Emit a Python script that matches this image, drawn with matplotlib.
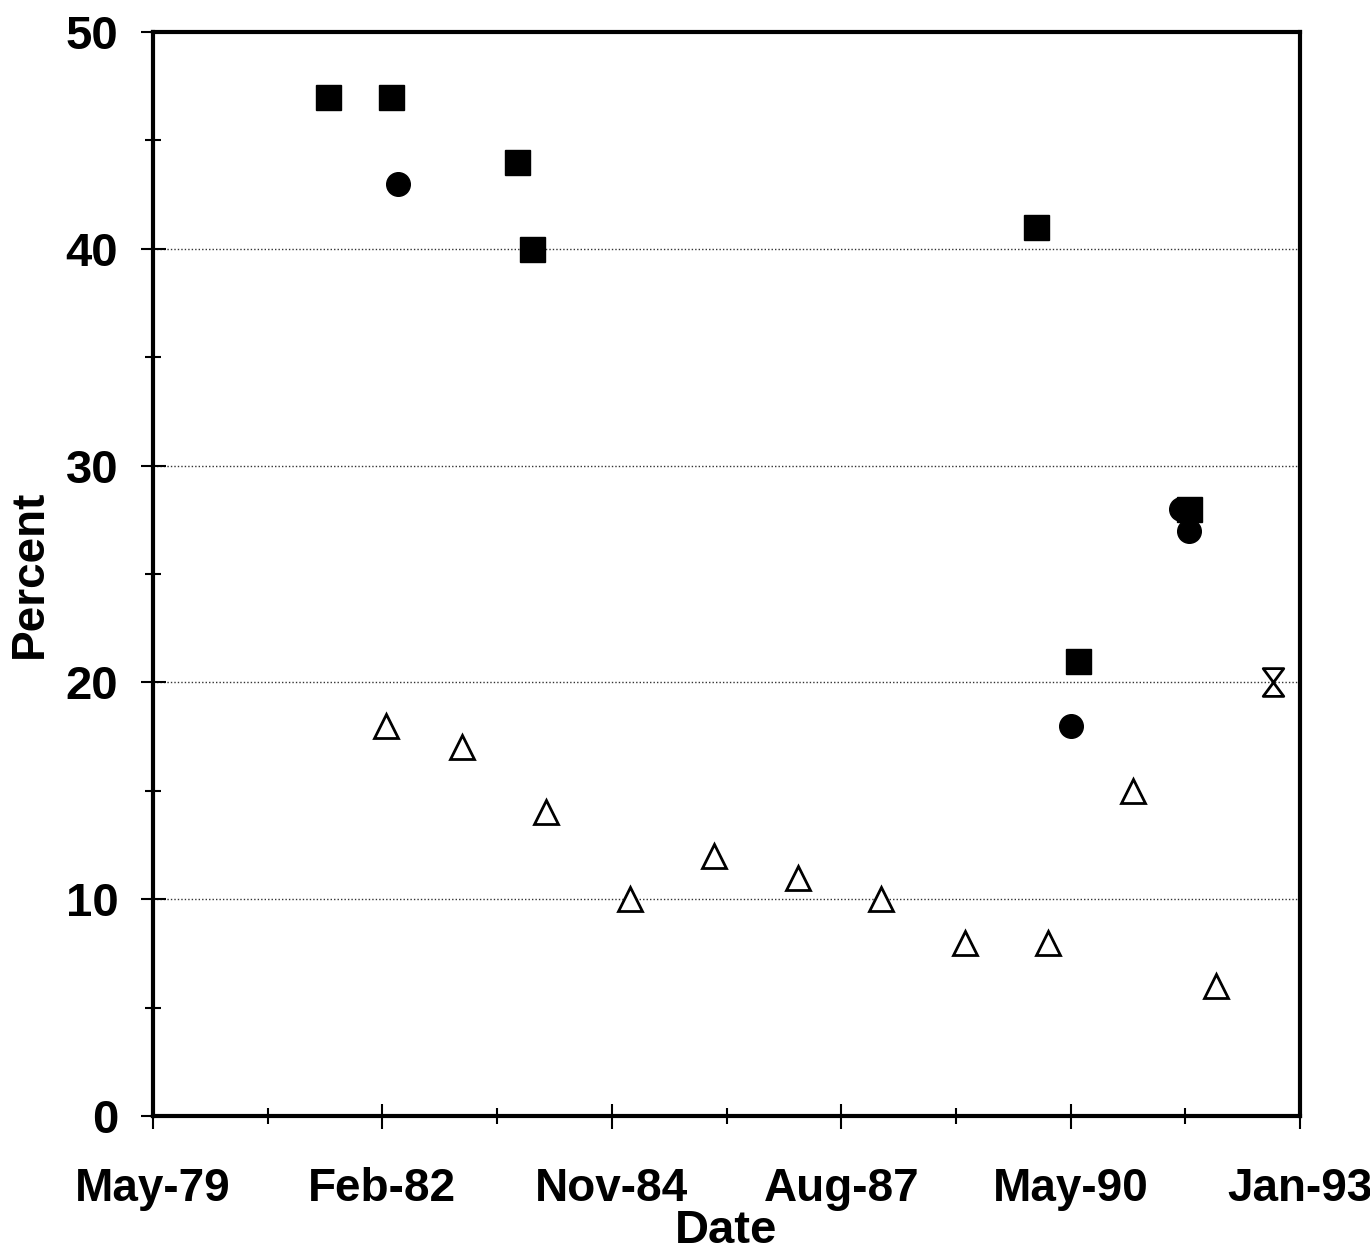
import datetime as dt
import matplotlib
matplotlib.use('Agg')
import matplotlib.pyplot as plt
from matplotlib.path import Path

plt.rcParams['font.family'] = ['Liberation Sans', 'DejaVu Sans']
plt.rcParams['font.weight'] = 'bold'

# x axis: Excel style date axis, 1000 day major unit
x_start = dt.date(1979, 5, 20)
x_labels = ['May-79', 'Feb-82', 'Nov-84', 'Aug-87', 'May-90', 'Jan-93']

# filled squares
sq_dates = ['1981-06-21', '1982-03-23', '1983-09-24', '1983-11-28',
            '1989-12-02', '1990-06-03', '1991-09-30']
sq_vals = [47, 47, 44, 40, 41, 21, 28]

# filled circles
ci_dates = ['1982-04-23', '1990-05-04', '1991-08-26', '1991-09-30']
ci_vals = [43, 18, 28, 27]

# open triangles
tr_dates = ['1982-03-02', '1983-01-27', '1984-01-27', '1985-01-27',
            '1986-01-29', '1987-01-29', '1988-01-25', '1989-01-25',
            '1990-01-25', '1991-01-30', '1992-01-27']
tr_vals = [18, 17, 14, 10, 12, 11, 10, 8, 8, 15, 6]

# hourglass point
hg_dates = ['1992-09-30']
hg_vals = [20]


def to_dates(lst):
    return [dt.date.fromisoformat(s) for s in lst]


hourglass = Path([(-0.85, 1.15), (0.85, 1.15), (-0.85, -1.15), (0.85, -1.15), (-0.85, 1.15)],
                 [Path.MOVETO, Path.LINETO, Path.LINETO, Path.LINETO, Path.CLOSEPOLY])

fig = plt.figure(figsize=(13.7, 12.6), dpi=100)
ax = fig.add_axes([0.1117, 0.1143, 0.8372, 0.8603])

ax.plot(to_dates(sq_dates), sq_vals, ls='none', marker='s', ms=18,
        color='black', zorder=3)
ax.plot(to_dates(ci_dates), ci_vals, ls='none', marker='o', ms=17,
        color='black', zorder=3)
ax.plot(to_dates(tr_dates), tr_vals, ls='none', marker='^', ms=17,
        mfc='white', mec='black', mew=2, zorder=3)
ax.plot(to_dates(hg_dates), hg_vals, ls='none', marker=hourglass, ms=20,
        mfc='white', mec='black', mew=2, zorder=3)

major = [x_start + dt.timedelta(days=1000 * i) for i in range(6)]
minor = [x_start + dt.timedelta(days=500 + 1000 * i) for i in range(5)]
ax.set_xlim(major[0], major[-1])
ax.set_xticks(major)
ax.set_xticklabels(x_labels)
ax.set_xticks(minor, minor=True)

ax.set_ylim(0, 50)
ax.set_yticks(range(0, 51, 10))
ax.set_yticks(range(5, 50, 10), minor=True)
ax.yaxis.grid(True, which='major', color='0.2', ls=(0, (1, 1.5)), lw=1)

for s in ax.spines.values():
    s.set_linewidth(3)

ax.tick_params(which='major', direction='inout', length=18, width=1.5,
               labelsize=34)
ax.tick_params(axis='x', labelsize=33, pad=28)
ax.tick_params(which='minor', direction='inout', length=12, width=1.5)
ax.tick_params(axis='y', pad=16)

ax.set_xlabel('Date', fontsize=34, fontweight='bold', labelpad=-2)
ax.set_ylabel('Percent', fontsize=33, fontweight='bold', labelpad=10)

fig.savefig('out.png', dpi=100)
